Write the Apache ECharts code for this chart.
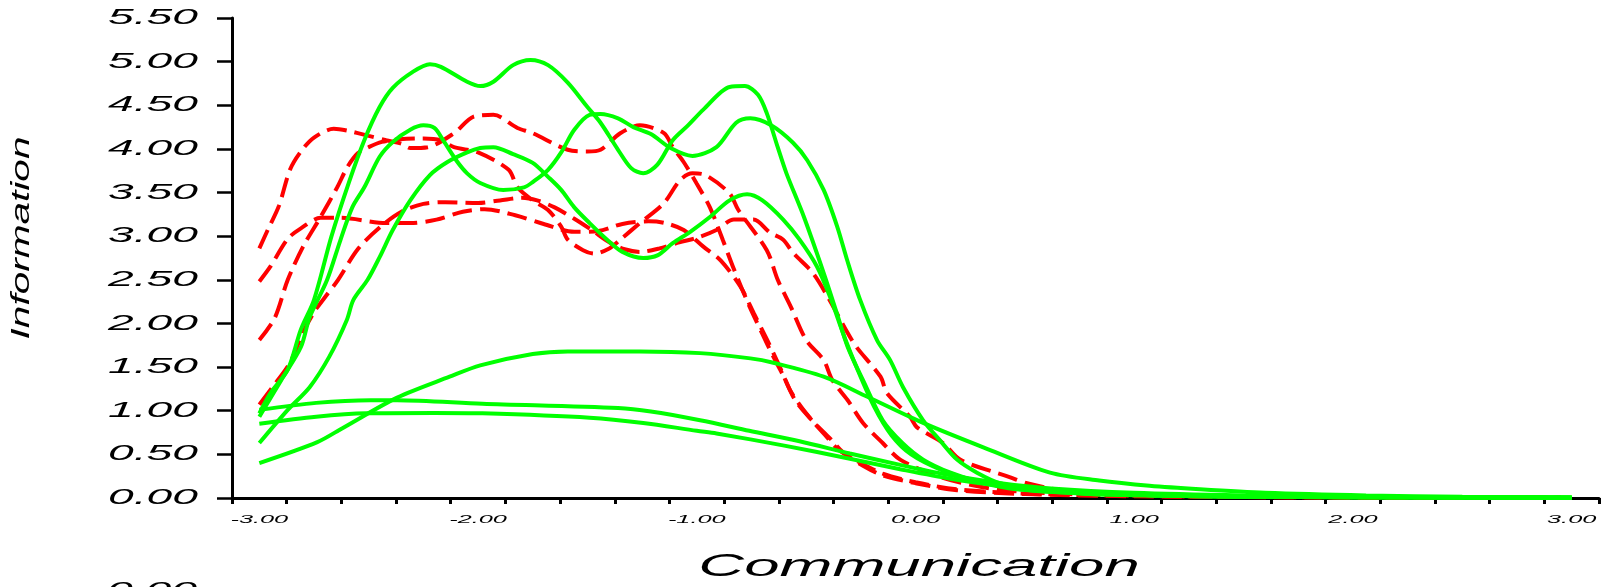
<!DOCTYPE html>
<html><head><meta charset="utf-8">
<script src="https://cdn.jsdelivr.net/npm/echarts@6/dist/echarts.min.js"></script>
<style>html,body{margin:0;padding:0;background:#fff}#c{width:1620px;height:587px}</style>
</head><body><div id="c"></div><script>
// ---- axis definitions ----
const xMin = -3.125, xMax = 3.125;
const xTickValues = Array.from({length: 26}, (_, i) => xMin + 0.25 * i);
const xLabelValues = [-3, -2, -1, 0, 1, 2, 3];
const yMin = 0, yMax = 5.5, yStep = 0.5;
const xTitle = 'Communication';
const yTitle = 'Information';

// ---- red dashed curves ----
const red1 = [[-3.0,2.86],[-2.96,3.08],[-2.91,3.35],[-2.86,3.76],[-2.81,3.97],[-2.75,4.13],[-2.66,4.23],[-2.60,4.21],[-2.50,4.15],[-2.42,4.10],[-2.35,4.06],[-2.31,4.01],[-2.23,4.02],[-2.11,4.18],[-2.02,4.37],[-1.93,4.39],[-1.82,4.24],[-1.75,4.18],[-1.59,3.99],[-1.50,3.97],[-1.44,3.99],[-1.35,4.18],[-1.26,4.27],[-1.15,4.18],[-1.11,4.02],[-1.06,3.85],[-1.0,3.6],[-0.94,3.33],[-0.88,2.95],[-0.83,2.62],[-0.76,2.2],[-0.70,1.88],[-0.65,1.62],[-0.60,1.38],[-0.55,1.12],[-0.47,0.88],[-0.39,0.68],[-0.33,0.52],[-0.24,0.37],[-0.15,0.26],[0.0,0.17],[0.19,0.09],[0.5,0.045],[1.0,0.02],[1.6,0.01],[2.3,0.005],[2.95,0.003]];
const red2 = [[-3.0,2.48],[-2.95,2.65],[-2.87,2.97],[-2.81,3.09],[-2.72,3.21],[-2.63,3.21],[-2.42,3.15],[-2.31,3.15],[-2.19,3.19],[-2.07,3.28],[-1.97,3.31],[-1.83,3.24],[-1.70,3.14],[-1.56,3.05],[-1.45,3.06],[-1.34,3.14],[-1.22,3.17],[-1.145,3.15],[-1.06,3.07],[-0.97,2.88],[-0.89,2.72],[-0.80,2.42],[-0.74,2.12],[-0.68,1.82],[-0.62,1.50],[-0.57,1.22],[-0.50,0.97],[-0.42,0.74],[-0.35,0.55],[-0.25,0.40],[-0.15,0.28],[0.0,0.18],[0.19,0.10],[0.5,0.05],[1.0,0.025],[1.6,0.012],[2.3,0.006],[2.95,0.004]];
const red3 = [[-3.0,1.81],[-2.93,2.06],[-2.87,2.50],[-2.80,2.88],[-2.72,3.22],[-2.644,3.56],[-2.598,3.79],[-2.55,3.95],[-2.50,4.02],[-2.44,4.08],[-2.36,4.11],[-2.25,4.12],[-2.17,4.10],[-2.11,4.02],[-2.0,3.96],[-1.86,3.76],[-1.82,3.56],[-1.75,3.41],[-1.68,3.30],[-1.62,3.11],[-1.59,2.96],[-1.52,2.84],[-1.47,2.80],[-1.40,2.86],[-1.35,2.96],[-1.26,3.15],[-1.15,3.38],[-1.077,3.64],[-1.02,3.72],[-0.96,3.70],[-0.85,3.49],[-0.81,3.30],[-0.68,2.84],[-0.63,2.50],[-0.57,2.19],[-0.50,1.81],[-0.42,1.58],[-0.38,1.35],[-0.31,1.12],[-0.24,0.86],[-0.15,0.63],[-0.07,0.44],[0.08,0.27],[0.2,0.18],[0.4,0.09],[0.7,0.045],[1.1,0.022],[1.7,0.01],[2.4,0.005],[2.95,0.003]];
const red4 = [[-3.0,1.07],[-2.94,1.27],[-2.86,1.55],[-2.80,1.90],[-2.75,2.13],[-2.70,2.30],[-2.64,2.50],[-2.55,2.85],[-2.45,3.10],[-2.35,3.28],[-2.25,3.37],[-2.15,3.39],[-2.0,3.38],[-1.90,3.41],[-1.80,3.44],[-1.73,3.41],[-1.65,3.33],[-1.56,3.20],[-1.48,3.07],[-1.40,2.93],[-1.33,2.85],[-1.26,2.82],[-1.17,2.86],[-1.08,2.93],[-1.0,2.98],[-0.91,3.07],[-0.83,3.19],[-0.74,3.19],[-0.665,3.04],[-0.605,2.96],[-0.56,2.81],[-0.47,2.58],[-0.40,2.30],[-0.31,1.89],[-0.27,1.73],[-0.16,1.39],[-0.13,1.20],[-0.025,0.93],[0.007,0.81],[0.126,0.63],[0.204,0.44],[0.43,0.24],[0.51,0.17],[0.69,0.08],[1.0,0.04],[1.5,0.02],[2.2,0.008],[2.95,0.004]];

// ---- green solid curves ----
const green1 = [[-3.0,0.97],[-2.95,1.2],[-2.87,1.47],[-2.81,1.93],[-2.75,2.27],[-2.67,3.0],[-2.59,3.62],[-2.52,4.10],[-2.45,4.48],[-2.39,4.70],[-2.30,4.88],[-2.22,4.97],[-2.17,4.94],[-2.05,4.77],[-1.99,4.72],[-1.93,4.77],[-1.84,4.96],[-1.76,5.02],[-1.68,4.96],[-1.59,4.76],[-1.50,4.48],[-1.44,4.30],[-1.36,3.99],[-1.30,3.78],[-1.245,3.72],[-1.18,3.82],[-1.11,4.10],[-1.04,4.27],[-0.97,4.45],[-0.85,4.71],[-0.78,4.72],[-0.72,4.62],[-0.68,4.41],[-0.63,4.02],[-0.59,3.72],[-0.51,3.22],[-0.42,2.58],[-0.36,2.12],[-0.31,1.73],[-0.24,1.35],[-0.15,0.89],[-0.06,0.63],[0.035,0.44],[0.16,0.29],[0.31,0.17],[0.46,0.10],[0.77,0.05],[1.07,0.03],[1.5,0.015],[2.0,0.008],[3.0,0.002]];
const green2 = [[-3.0,0.93],[-2.90,1.35],[-2.81,1.73],[-2.77,2.07],[-2.69,2.50],[-2.63,2.95],[-2.575,3.33],[-2.52,3.56],[-2.45,3.91],[-2.39,4.08],[-2.31,4.22],[-2.25,4.27],[-2.20,4.24],[-2.16,4.10],[-2.10,3.87],[-2.05,3.72],[-1.99,3.61],[-1.885,3.53],[-1.79,3.56],[-1.75,3.62],[-1.68,3.76],[-1.62,3.96],[-1.56,4.22],[-1.49,4.39],[-1.44,4.40],[-1.36,4.35],[-1.29,4.25],[-1.21,4.17],[-1.12,4.01],[-1.02,3.92],[-0.91,4.02],[-0.82,4.30],[-0.755,4.35],[-0.66,4.27],[-0.56,4.07],[-0.495,3.87],[-0.42,3.53],[-0.358,3.11],[-0.313,2.73],[-0.253,2.27],[-0.176,1.81],[-0.116,1.58],[-0.057,1.27],[0.035,0.89],[0.112,0.66],[0.19,0.44],[0.281,0.29],[0.386,0.17],[0.537,0.11],[0.766,0.06],[1.1,0.03],[1.5,0.015],[2.0,0.008],[3.0,0.002]];
const green3 = [[-3.0,0.63],[-2.87,1.01],[-2.77,1.27],[-2.68,1.62],[-2.60,2.04],[-2.57,2.27],[-2.505,2.50],[-2.45,2.76],[-2.39,3.07],[-2.31,3.41],[-2.22,3.70],[-2.14,3.85],[-2.05,3.96],[-1.99,4.01],[-1.93,4.02],[-1.84,3.94],[-1.75,3.84],[-1.68,3.68],[-1.62,3.53],[-1.56,3.33],[-1.49,3.15],[-1.41,2.96],[-1.34,2.82],[-1.245,2.75],[-1.18,2.78],[-1.11,2.92],[-1.03,3.05],[-0.94,3.22],[-0.85,3.41],[-0.77,3.48],[-0.70,3.41],[-0.605,3.19],[-0.53,2.96],[-0.45,2.65],[-0.39,2.30],[-0.33,1.88],[-0.27,1.50],[-0.19,1.05],[-0.11,0.72],[-0.02,0.50],[0.12,0.32],[0.28,0.19],[0.48,0.10],[0.78,0.05],[1.1,0.03],[1.5,0.015],[2.0,0.008],[3.0,0.002]];
const green4 = [[-3.0,1.01],[-2.74,1.09],[-2.49,1.12],[-2.37,1.12],[-1.98,1.08],[-1.36,1.03],[-1.21,0.99],[-0.985,0.89],[-0.76,0.77],[-0.53,0.65],[-0.30,0.51],[-0.07,0.38],[0.16,0.26],[0.39,0.17],[0.62,0.11],[1.0,0.06],[1.5,0.03],[2.0,0.015],[3.0,0.004]];
const green5 = [[-3.0,0.85],[-2.74,0.93],[-2.51,0.97],[-2.2,0.975],[-1.98,0.97],[-1.49,0.92],[-1.245,0.86],[-1.0,0.77],[-0.91,0.74],[-0.60,0.60],[-0.30,0.45],[-0.07,0.33],[0.16,0.22],[0.39,0.14],[0.62,0.08],[1.0,0.04],[1.5,0.02],[2.0,0.01],[3.0,0.002]];
const green6 = [[-3.0,0.40],[-2.735,0.64],[-2.62,0.80],[-2.37,1.15],[-2.13,1.39],[-1.99,1.52],[-1.75,1.65],[-1.59,1.68],[-1.26,1.68],[-0.985,1.66],[-0.755,1.60],[-0.65,1.55],[-0.42,1.39],[-0.22,1.16],[0.035,0.86],[0.31,0.58],[0.615,0.29],[0.84,0.20],[1.07,0.14],[1.3,0.10],[1.6,0.06],[2.06,0.03],[2.5,0.015],[3.0,0.008]];

const redSeries = [red1, red2, red3, red4];
const greenSeries = [green1, green2, green3, green4, green5, green6];

const chart = echarts.init(document.getElementById('c'), null, {renderer: 'canvas'});
const FONT = '"Liberation Sans", Arial, sans-serif';
const series = [];
redSeries.forEach((d, i) => series.push({
  name: 'Red ' + (i + 1), type: 'line', data: d, showSymbol: false, smooth: 0.3,
  lineStyle: {color: '#ff0000', width: 4, type: [20, 8], cap: 'butt'}, z: 2
}));
greenSeries.forEach((d, i) => series.push({
  name: 'Green ' + (i + 1), type: 'line', data: d, showSymbol: false, smooth: 0.3,
  lineStyle: {color: '#00ff00', width: 4, type: 'solid'}, z: 3
}));

chart.setOption({
  animation: false,
  backgroundColor: '#ffffff',
  grid: {left: 232, right: 21, top: 18, bottom: 89, containLabel: false, outerBoundsMode: 'none'},
  xAxis: {
    type: 'value', min: xMin, max: xMax,
    axisLine: {show: true, onZero: false, lineStyle: {color: '#000', width: 3}},
    axisTick: {show: true, inside: false, length: 6, lineStyle: {color: '#000', width: 3}, customValues: xTickValues},
    axisLabel: {show: true, customValues: xLabelValues, margin: 16, color: '#000',
      fontSize: 11, fontStyle: 'italic', fontFamily: FONT,
      formatter: v => Number(v).toFixed(2)},
    splitLine: {show: false}
  },
  yAxis: {
    type: 'value', min: yMin, max: yMax, interval: yStep,
    axisLine: {show: true, onZero: false, lineStyle: {color: '#000', width: 3}},
    axisTick: {show: true, inside: false, length: 15, lineStyle: {color: '#000', width: 2.5}},
    axisLabel: {show: true, margin: 34, color: '#000', fontSize: 22, fontStyle: 'italic', fontFamily: FONT,
      showMinLabel: true, showMaxLabel: true,
      formatter: v => Number(v).toFixed(2)},
    splitLine: {show: false}
  },
  graphic: [
    {type: 'text', x: 919, y: 567, scaleX: 2.05, z: 10,
      style: {text: xTitle, fill: '#000', align: 'center', verticalAlign: 'middle',
        font: 'italic 31px ' + FONT}},
    {type: 'text', x: 22, y: 238, rotation: Math.PI / 2, scaleX: 1.56, z: 10,
      style: {text: yTitle, fill: '#000', align: 'center', verticalAlign: 'middle',
        font: 'italic 26px ' + FONT}},
    {type: 'text', x: 197, y: 580, scaleX: 2.1, z: 10,
      style: {text: '0.00', fill: '#000', align: 'right', verticalAlign: 'top',
        font: 'italic 22px ' + FONT}}
  ],
  series: series
});

// Stretch the axis tick labels horizontally, as in the reference's wide italic type.
function stretchAxisTexts() {
  try {
    const zr = chart.getZr();
    const visit = el => {
      if (el && el.type === 'text' && el.style && el.style.text != null) {
        let fs = el.style.fontSize;
        if (fs == null && el.style.font) {
          const m = String(el.style.font).match(/(\d+(?:\.\d+)?)px/);
          if (m) fs = m[1];
        }
        fs = parseFloat(fs);
        let s = null;
        if (fs === 22) s = 2.1;
        else if (fs === 11) s = 2.3;
        if (s) { el.scaleX = s; el.markRedraw && el.markRedraw(); }
      }
    };
    zr.storage.getRoots().forEach(r => { visit(r); if (r.traverse) r.traverse(visit); });
    zr.refreshImmediately();
  } catch (e) { console.log(e); }
}
stretchAxisTexts();
setTimeout(stretchAxisTexts, 30);
</script></body></html>
